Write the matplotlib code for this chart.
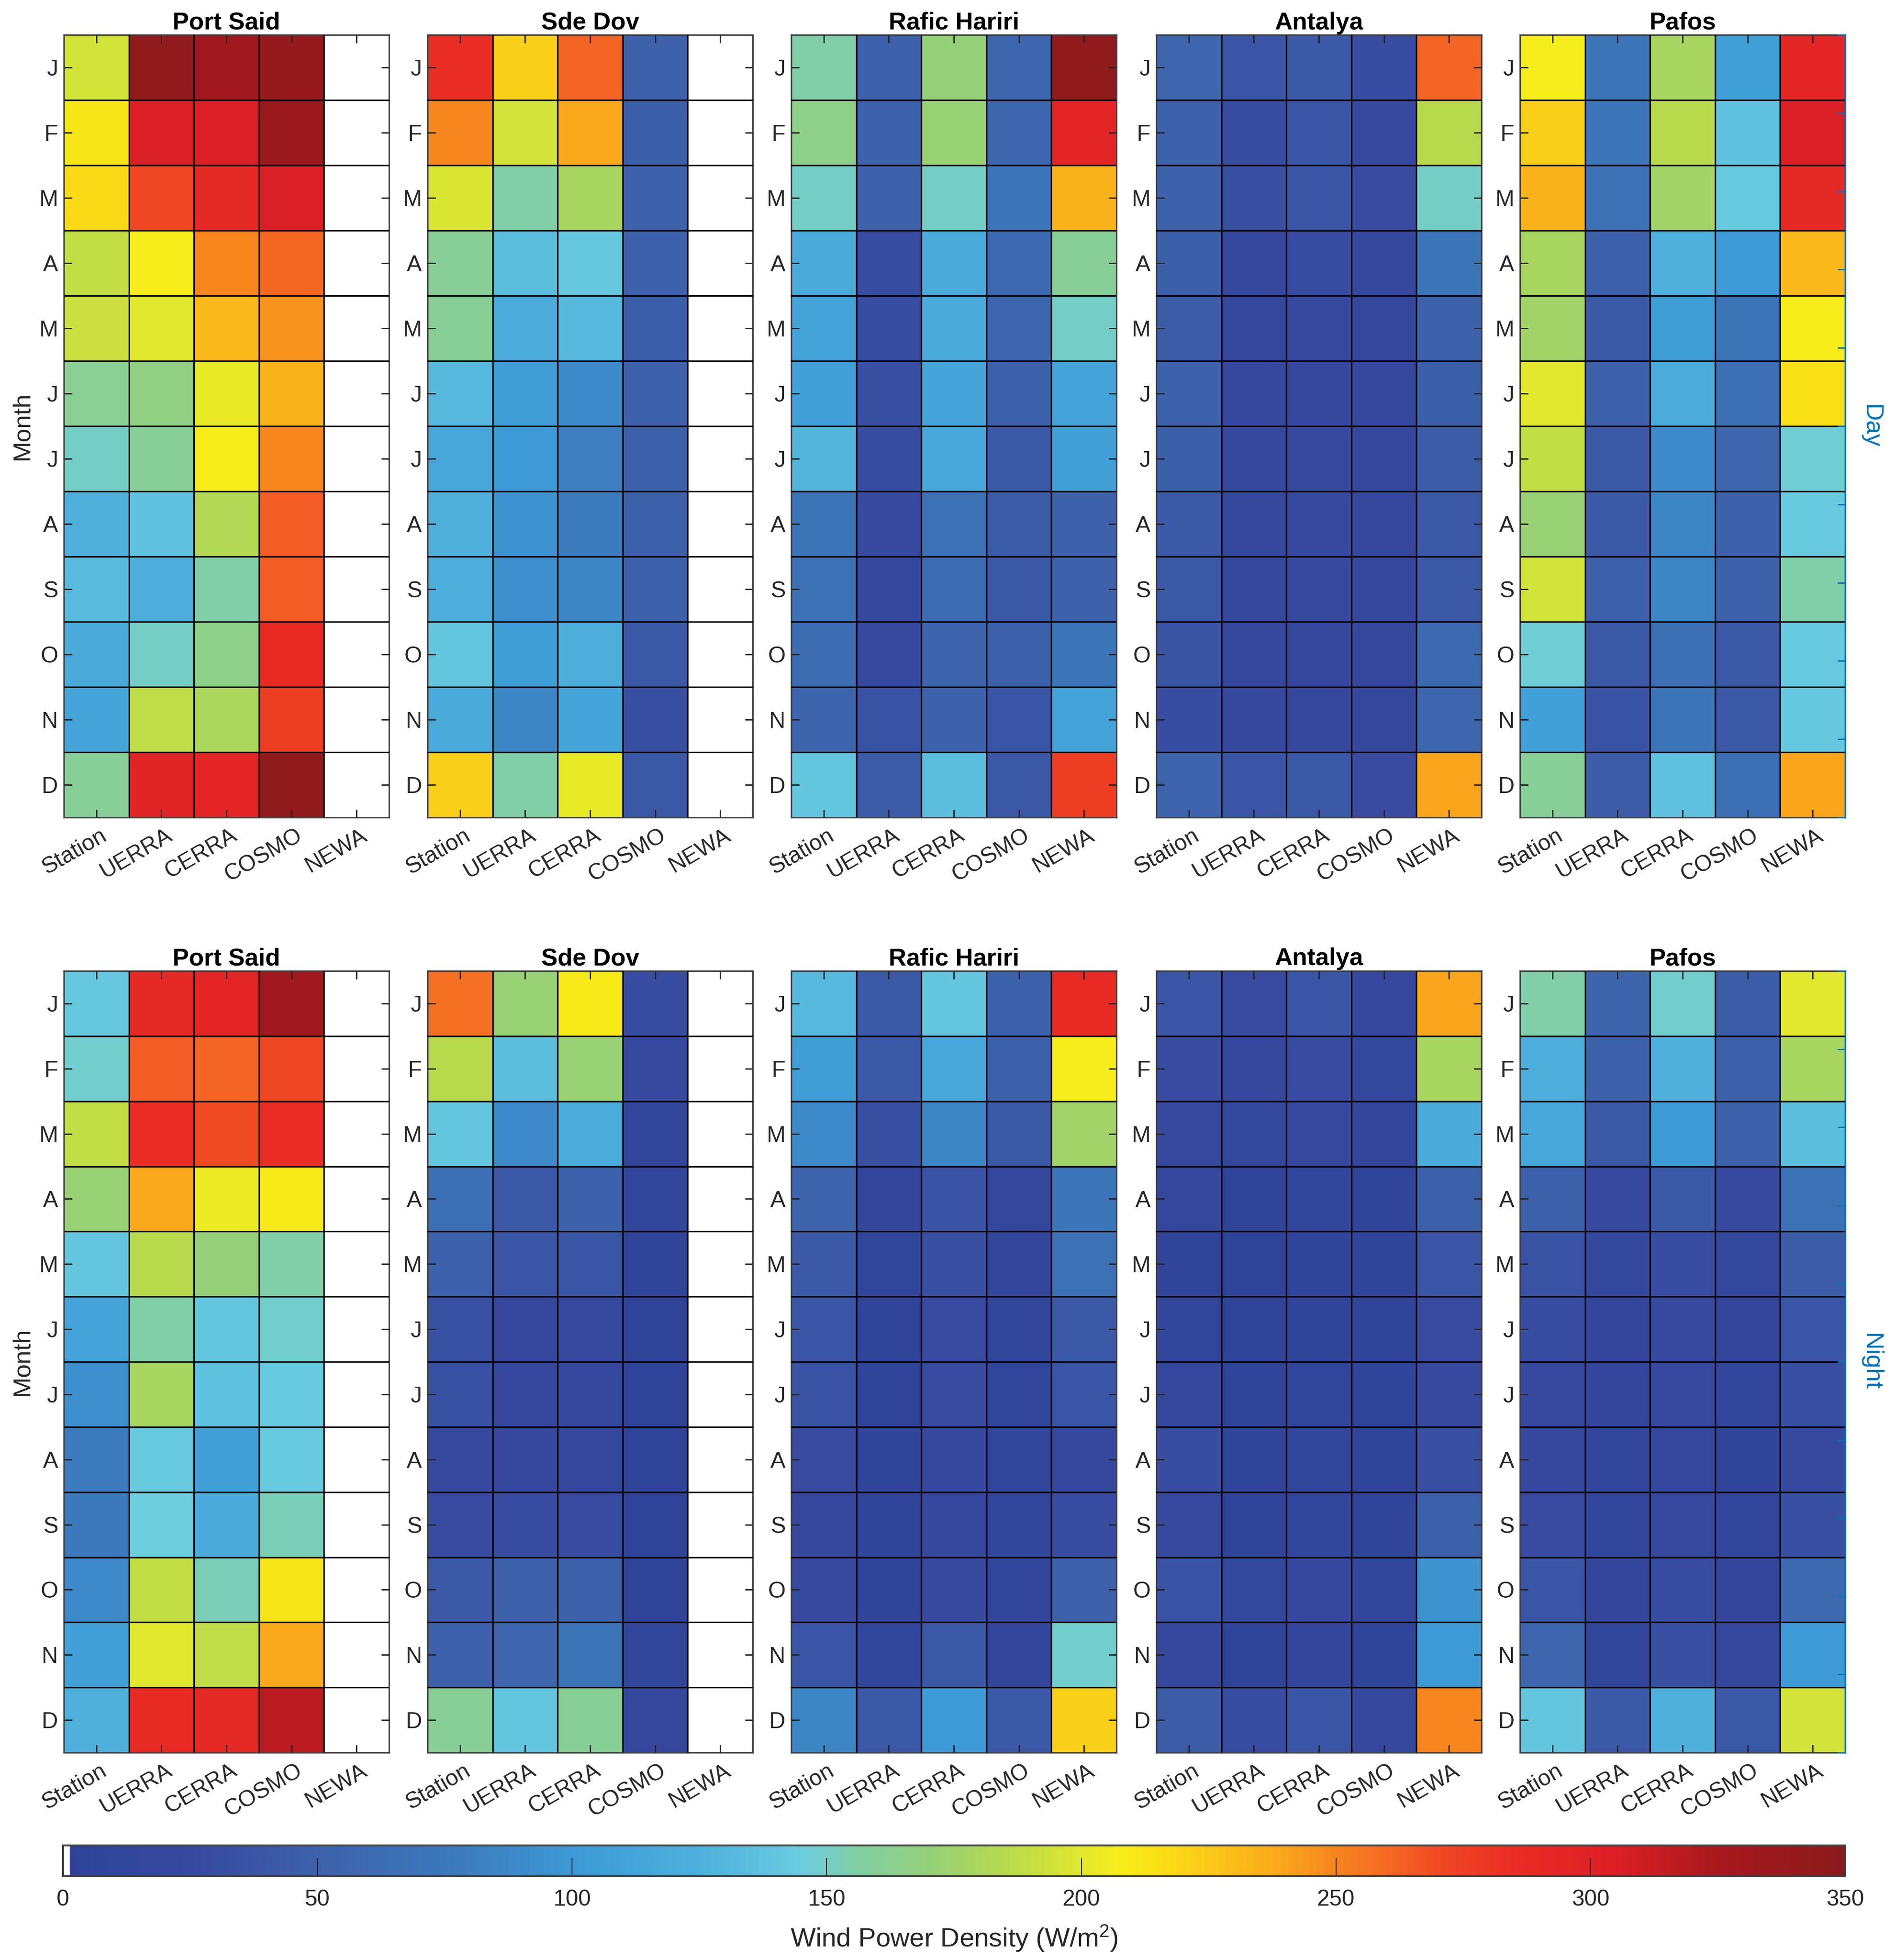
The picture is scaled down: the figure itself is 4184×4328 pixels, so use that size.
"""Monthly wind power density heatmaps, day and night, five sites."""
import numpy as np
import matplotlib
matplotlib.use("Agg")
import matplotlib.pyplot as plt
from matplotlib.colors import LinearSegmentedColormap, ListedColormap
from matplotlib.transforms import ScaledTranslation

plt.rcParams["font.family"] = ["Liberation Sans", "DejaVu Sans"]
plt.rcParams["mathtext.default"] = "regular"

MONTHS = ["J", "F", "M", "A", "M", "J", "J", "A", "S", "O", "N", "D"]
PRODUCTS = ["Station", "UERRA", "CERRA", "COSMO", "NEWA"]
SITES = ["Port Said", "Sde Dov", "Rafic Hariri", "Antalya", "Pafos"]
N = np.nan

port_said_day = [[195, 345, 330, 340, N], [212, 305, 305, 335, N], [218, 272, 290, 305, N],
                 [190, 208, 250, 260, N], [192, 200, 232, 245, N], [162, 168, 203, 235, N],
                 [150, 160, 208, 250, N], [125, 138, 182, 265, N], [132, 122, 155, 265, N],
                 [118, 150, 165, 288, N], [112, 188, 180, 275, N], [160, 298, 295, 345, N]]
sde_dov_day = [[285, 222, 262, 50, N], [250, 195, 238, 47, N], [198, 155, 178, 50, N],
               [160, 135, 142, 50, N], [160, 120, 130, 46, N], [130, 105, 90, 50, N],
               [115, 100, 80, 48, N], [125, 95, 78, 48, N], [122, 92, 85, 48, N],
               [140, 105, 122, 42, N], [118, 85, 112, 32, N], [222, 155, 203, 40, N]]
rafic_day = [[155, 50, 170, 55, 345], [165, 50, 172, 55, 295], [150, 50, 150, 72, 235],
             [118, 30, 118, 58, 160], [110, 30, 118, 55, 150], [108, 32, 112, 48, 110],
             [128, 30, 115, 42, 108], [70, 27, 67, 45, 50], [67, 22, 62, 42, 50],
             [62, 25, 52, 48, 72], [52, 35, 50, 38, 110], [140, 45, 135, 40, 275]]
antalya_day = [[55, 38, 42, 30, 262], [50, 30, 37, 25, 185], [50, 32, 38, 28, 150],
               [47, 20, 30, 22, 70], [45, 18, 25, 18, 50], [50, 22, 23, 20, 47],
               [47, 22, 25, 22, 45], [42, 22, 24, 22, 40], [40, 22, 24, 22, 40],
               [36, 20, 22, 18, 58], [30, 23, 22, 18, 55], [52, 38, 40, 28, 240]]
pafos_day = [[207, 70, 178, 108, 295], [222, 72, 185, 138, 305], [235, 68, 175, 143, 290],
             [178, 48, 125, 102, 232], [175, 42, 105, 70, 208], [200, 48, 120, 65, 215],
             [190, 40, 90, 55, 147], [172, 42, 85, 50, 143], [195, 48, 85, 50, 155],
             [147, 40, 65, 42, 143], [108, 35, 70, 40, 142], [160, 45, 138, 65, 240]]

port_said_night = [[142, 290, 295, 330, N], [148, 265, 262, 272, N], [190, 285, 270, 285, N],
                   [172, 238, 205, 210, N], [140, 185, 170, 155, N], [110, 155, 140, 148, N],
                   [92, 178, 138, 143, N], [78, 143, 108, 143, N], [76, 145, 118, 152, N],
                   [88, 190, 152, 212, N], [108, 200, 188, 238, N], [125, 288, 290, 318, N]]
sde_dov_night = [[258, 172, 210, 30, N], [185, 135, 172, 25, N], [140, 88, 120, 12, N],
                 [65, 42, 50, 12, N], [50, 38, 38, 8, N], [33, 22, 25, 5, N],
                 [33, 20, 22, 4, N], [25, 20, 18, 3, N], [28, 30, 28, 3, N],
                 [42, 50, 48, 4, N], [50, 55, 70, 10, N], [160, 140, 160, 18, N]]
rafic_night = [[130, 42, 140, 50, 288], [105, 42, 115, 48, 207], [88, 32, 85, 42, 175],
               [52, 15, 35, 18, 72], [42, 10, 32, 15, 68], [38, 8, 28, 12, 42],
               [35, 8, 28, 10, 38], [28, 8, 22, 10, 22], [22, 6, 22, 12, 30],
               [25, 8, 25, 12, 50], [38, 12, 40, 14, 148], [85, 42, 100, 42, 222]]
antalya_night = [[38, 28, 38, 22, 240], [28, 20, 28, 16, 178], [24, 16, 24, 15, 118],
                 [18, 8, 12, 8, 48], [6, 5, 8, 6, 38], [10, 6, 8, 6, 28],
                 [18, 6, 10, 8, 27], [30, 8, 10, 6, 32], [24, 7, 12, 8, 48],
                 [35, 16, 20, 9, 95], [22, 8, 14, 7, 100], [45, 30, 38, 20, 250]]
pafos_night = [[155, 52, 148, 45, 200], [122, 48, 125, 48, 178], [115, 42, 102, 50, 135],
               [48, 25, 42, 26, 68], [35, 16, 30, 16, 45], [30, 15, 26, 14, 38],
               [25, 14, 24, 12, 32], [20, 10, 18, 8, 25], [28, 12, 24, 12, 32],
               [38, 14, 30, 14, 58], [55, 10, 32, 18, 100], [140, 42, 125, 40, 195]]

DAY = [port_said_day, sde_dov_day, rafic_day, antalya_day, pafos_day]
NIGHT = [port_said_night, sde_dov_night, rafic_night, antalya_night, pafos_night]

# colormap anchors
anchors = [(0, "#2e4397"), (25, "#37499f"), (50, "#3d62ab"), (75, "#3c78bb"), (100, "#3d9ad6"),
           (125, "#4fb0dc"), (145, "#6bcddf"), (155, "#80cfa8"), (170, "#95d07a"), (185, "#b8d94e"),
           (195, "#d2e33a"), (208, "#f7ee1a"), (215, "#f9e016"), (225, "#fbc91a"), (240, "#faa61c"),
           (250, "#f7851f"), (262, "#f46524"), (272, "#ef4524"), (285, "#e92d24"), (305, "#dd1f26"),
           (325, "#a8191e"), (350, "#8b1a1c")]
base = LinearSegmentedColormap.from_list("wpd", [(v / 350, c) for v, c in anchors], N=256)
lut = base(np.linspace(0, 1, 256))
lut[0] = (1, 1, 1, 1)
CMAP = ListedColormap(lut)
CMAP.set_bad("white")

PW, PH = 4184, 4328
DPI = 300
INK, BLUE = "#262626", "#0072BD"
LEFTS = [141, 944, 1747, 2553, 3356]
WIDTH = 718
ROWS = [(77, 1805), (2144, 3870)]   # top, bottom in pixels

fig = plt.figure(figsize=(PW / DPI, PH / DPI), dpi=DPI, facecolor="white")

def rect(x0, y0, x1, y1):
    return [x0 / PW, 1 - y1 / PH, (x1 - x0) / PW, (y1 - y0) / PH]

def panel(x0, top, bottom, data, site, first, last, side):
    ax = fig.add_axes(rect(x0, top, x0 + WIDTH, bottom))
    mesh = ax.pcolormesh(np.arange(6), np.arange(13), np.ma.masked_invalid(np.array(data, float)),
                         cmap=CMAP, vmin=0, vmax=350, linewidth=0)
    ax.set_xlim(0, 5); ax.set_ylim(12, 0)
    ax.set_xticks(np.arange(5) + .5, PRODUCTS, rotation=30, ha="right", rotation_mode="anchor")
    ax.set_yticks(np.arange(12) + .5, MONTHS)
    ax.set_xticks(np.arange(1, 5), minor=True); ax.set_yticks(np.arange(1, 12), minor=True)
    ax.grid(which="minor", color="black", lw=0.8)
    ax.set_axisbelow(False)
    ax.tick_params(which="minor", length=0)
    ax.tick_params(which="major", direction="in", length=4.2, width=0.7, color=INK,
                   top=True, bottom=True, left=True, right=not last,
                   labelsize=12, labelcolor=INK)
    ax.tick_params(axis="y", which="major", pad=3)
    ax.tick_params(axis="x", which="major", pad=4)
    # rotated labels sit a little right of their ticks
    nudge = ScaledTranslation(8 / DPI, 0, fig.dpi_scale_trans)
    for lab in ax.get_xticklabels():
        lab.set_transform(lab.get_transform() + nudge)
    for s in ax.spines.values():
        s.set_color("#404040"); s.set_linewidth(0.8)
    ax.set_title(site, fontsize=13, fontweight="bold", color="black", pad=3)
    if first:
        ax.set_ylabel("Month", fontsize=13, color=INK, labelpad=3)
    if last:
        # MATLAB style right axis, blue, with ticks that do not follow the months
        tw = ax.twinx()
        tw.set_ylim(0, 1); tw.set_yticks(np.arange(0, 1.01, .1), [])
        tw.tick_params(direction="in", length=4.2, width=0.7, color=BLUE)
        for s in tw.spines.values():
            s.set_visible(False)
        tw.spines["right"].set_visible(True)
        tw.spines["right"].set_color(BLUE); tw.spines["right"].set_linewidth(0.8)
        tw.set_ylabel(side, fontsize=13, color=BLUE, rotation=270, labelpad=16)
    return mesh

for (top, bottom), block, side in zip(ROWS, [DAY, NIGHT], ["Day", "Night"]):
    for j, (x0, site) in enumerate(zip(LEFTS, SITES)):
        mesh = panel(x0, top, bottom, block[j], site, j == 0, j == 4, side)

cax = fig.add_axes(rect(139, 4075, 4074, 4143))
cb = fig.colorbar(mesh, cax=cax, orientation="horizontal", ticks=np.arange(0, 351, 50))
cb.ax.tick_params(direction="in", length=9.5, width=0.5, color=INK, labelsize=12,
                  labelcolor=INK, pad=7)
cb.outline.set_edgecolor("#404040"); cb.outline.set_linewidth(1.0)
cb.set_label("Wind Power Density (W/m$^{2}$)", fontsize=14, color=INK, labelpad=7)

fig.savefig("out.png", dpi=DPI, facecolor="white")
